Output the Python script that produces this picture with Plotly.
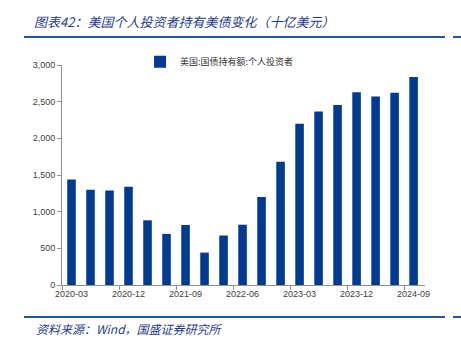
import plotly.graph_objects as go

quarters = ["2020-03", "2020-06", "2020-09", "2020-12",
            "2021-03", "2021-06", "2021-09", "2021-12",
            "2022-03", "2022-06", "2022-09", "2022-12",
            "2023-03", "2023-06", "2023-09", "2023-12",
            "2024-03", "2024-06", "2024-09"]
holdings = [1440, 1300, 1288, 1340,
            882, 697, 818, 442,
            675, 822, 1200, 1680,
            2200, 2365, 2455, 2630,
            2570, 2620, 2835]
series_name = "美国:国债持有额:个人投资者"
title_text = "图表42：美国个人投资者持有美债变化（十亿美元）"
source_text = "资料来源：Wind，国盛证券研究所"
y_ticks = [0, 500, 1000, 1500, 2000, 2500, 3000]

idx = list(range(len(quarters)))
label_idx = idx[::3]
bar_color = "#003A93"
navy = "#1F3C8E"
line_c = "#2456A6"
font_fam = "Liberation Sans, Arial, Noto Sans CJK SC, sans-serif"

fig = go.Figure()
fig.add_trace(go.Bar(x=idx, y=holdings, name=series_name,
                     marker=dict(color=bar_color, line=dict(width=0)),
                     width=0.45))

fig.update_layout(
    width=461, height=339,
    margin=dict(l=62, r=36, t=65, b=54),
    paper_bgcolor="white", plot_bgcolor="white",
    font=dict(family=font_fam, size=9, color="#404040"),
    showlegend=True,
    legend=dict(orientation="h", x=0.215, y=1.015, xanchor="left", yanchor="middle",
                font=dict(size=9, color="#333333", family="Noto Sans CJK SC, sans-serif"),
                bgcolor="rgba(0,0,0,0)", itemwidth=30),
    xaxis=dict(range=[-0.5, len(quarters) - 0.4], tickmode="array",
               tickvals=label_idx, ticktext=[quarters[i] for i in label_idx],
               ticks="", showgrid=False, zeroline=False,
               showline=True, linecolor="#909090", linewidth=1,
               tickfont=dict(size=9, color="#404040"),
               minor=dict(tickmode="array", tickvals=[i - 0.5 for i in label_idx],
                          ticks="outside", ticklen=4, tickcolor="#909090", showgrid=False)),
    yaxis=dict(range=[0, 3000], tickmode="array", tickvals=y_ticks, tickformat=",",
               ticks="outside", ticklen=4, tickcolor="#909090",
               showgrid=False, zeroline=False,
               showline=True, linecolor="#909090", linewidth=1,
               tickfont=dict(size=9, color="#404040")),
    bargap=0.55,
)

def px_x(p):
    return (p - 62) / 363.0

def px_y(p):
    return (285 - p) / 220.0

shapes = []
for y0 in (37, 317):
    shapes.append(dict(type="line", xref="paper", yref="paper",
                       x0=px_x(24), x1=px_x(445), y0=px_y(y0), y1=px_y(y0),
                       line=dict(color=line_c, width=2)))
    shapes.append(dict(type="line", xref="paper", yref="paper",
                       x0=px_x(453), x1=px_x(461), y0=px_y(y0), y1=px_y(y0),
                       line=dict(color=line_c, width=2)))
fig.update_layout(shapes=shapes)

fig.add_annotation(text="<i>" + title_text + "</i>", xref="paper", yref="paper",
                   x=px_x(32), y=px_y(22), xanchor="left", yanchor="middle",
                   showarrow=False,
                   font=dict(size=13, color=navy, family="Noto Sans CJK SC, sans-serif"))
fig.add_annotation(text="<i>" + source_text + "</i>", xref="paper", yref="paper",
                   x=px_x(34), y=px_y(328), xanchor="left", yanchor="middle",
                   showarrow=False,
                   font=dict(size=12, color=navy, family="Noto Sans CJK SC, sans-serif"))

fig.write_html("out.html")
